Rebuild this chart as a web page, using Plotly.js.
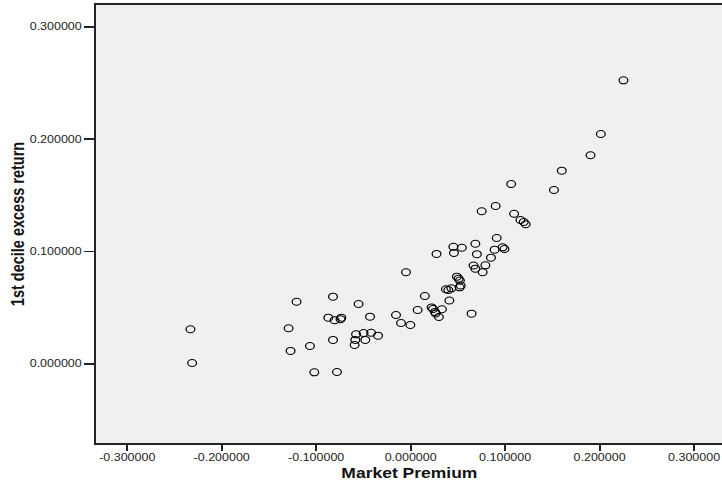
<!DOCTYPE html>
<html>
<head>
<meta charset="utf-8">
<script src="https://cdn.plot.ly/plotly-3.0.1.min.js"></script>
<style>
  html, body { margin: 0; padding: 0; background: #ffffff; overflow: hidden; }
  #wrap { width: 722px; height: 488px; overflow: hidden; }
  #chart { width: 577.6px; height: 488px; transform: scaleX(1.25); transform-origin: 0 0; }
</style>
</head>
<body>
<div id="wrap"><div id="chart"></div></div>
<script>
// Market Premium (x) vs 1st decile excess return (y)
const marketPremium = [
  -0.2331, -0.2313, -0.1292, -0.1271, -0.1208, -0.1066, -0.1020, -0.0872, -0.0805, -0.0742,
  -0.0734, -0.0822, -0.0822, -0.0780, -0.0551, -0.0430, -0.0578, -0.0498, -0.0419, -0.0345,
  -0.0586, -0.0480, -0.0593, -0.0155, -0.0102, -0.0003, -0.0049, 0.0074, 0.0150, 0.0222,
  0.0237, 0.0258, 0.0265, 0.0299, 0.0331, 0.0645, 0.0410, 0.0373, 0.0399, 0.0431,
  0.0489, 0.0507, 0.0521, 0.0530, 0.0519, 0.0274, 0.0452, 0.0542, 0.0458, 0.0685,
  0.0701, 0.0911, 0.0889, 0.0974, 0.0993, 0.0850, 0.0791, 0.0666, 0.0685, 0.0762,
  0.0752, 0.0900, 0.1064, 0.1095, 0.1162, 0.1197, 0.1218, 0.1517, 0.1600, 0.1904,
  0.2013, 0.2253
];
const firstDecileExcess = [
  0.0309, 0.0009, 0.0318, 0.0116, 0.0554, 0.0160, -0.0074, 0.0412, 0.0389, 0.0398,
  0.0412, 0.0599, 0.0214, -0.0071, 0.0534, 0.0421, 0.0264, 0.0276, 0.0278, 0.0252,
  0.0214, 0.0214, 0.0169, 0.0436, 0.0365, 0.0347, 0.0816, 0.0480, 0.0605, 0.0503,
  0.0489, 0.0463, 0.0449, 0.0418, 0.0487, 0.0448, 0.0565, 0.0665, 0.0658, 0.0673,
  0.0777, 0.0759, 0.0743, 0.0698, 0.0682, 0.0979, 0.1043, 0.1034, 0.0988, 0.1070,
  0.0977, 0.1121, 0.1017, 0.1038, 0.1023, 0.0946, 0.0878, 0.0876, 0.0848, 0.0816,
  0.1359, 0.1406, 0.1601, 0.1337, 0.1281, 0.1263, 0.1243, 0.1548, 0.1720, 0.1857,
  0.2046, 0.2524
];
const xTickVals = [-0.3, -0.2, -0.1, 0, 0.1, 0.2, 0.3];
const xTickText = ["-0.300000", "-0.200000", "-0.100000", "0.000000", "0.100000", "0.200000", "0.300000"];
const yTickVals = [0, 0.1, 0.2, 0.3];
const yTickText = ["0.000000", "0.100000", "0.200000", "0.300000"];
const xTitle = "Market Premium";
const yTitle = "1st decile excess return";

const trace = {
  x: marketPremium,
  y: firstDecileExcess,
  type: "scatter",
  mode: "markers",
  marker: { symbol: "circle-open", size: 7, color: "#000000", line: { width: 1, color: "#000000" } },
  hoverinfo: "x+y"
};

const layout = {
  width: 577.6,
  height: 488,
  margin: { l: 76.8, r: 0, t: 5, b: 45 },
  paper_bgcolor: "#ffffff",
  plot_bgcolor: "#f0f0f0",
  showlegend: false,
  font: { family: "Liberation Sans, Arial, sans-serif", color: "#222222" },
  xaxis: {
    range: [-0.3328, 0.3301],
    tickvals: xTickVals,
    ticktext: xTickText,
    ticks: "outside",
    ticklen: 6,
    tickwidth: 1.5,
    tickcolor: "#222222",
    tickfont: { size: 10, color: "#222222" },
    ticklabelstandoff: -2,
    showgrid: false,
    zeroline: false,
    showline: true,
    mirror: true,
    linecolor: "#222222",
    linewidth: 2,
    title: { text: xTitle, font: { size: 14, color: "#111111", family: "Liberation Sans, Arial, sans-serif", weight: "bold" }, standoff: 6 }
  },
  yaxis: {
    range: [-0.0703, 0.3194],
    tickvals: yTickVals,
    ticktext: yTickText,
    ticks: "outside",
    ticklen: 8,
    tickwidth: 1.5,
    tickcolor: "#222222",
    tickfont: { size: 10, color: "#222222" },
    showgrid: false,
    zeroline: false,
    showline: true,
    mirror: false,
    linecolor: "#222222",
    linewidth: 1.6,
    title: { text: yTitle, font: { size: 14.5, color: "#111111", family: "Liberation Sans, Arial, sans-serif", weight: "bold" }, standoff: 0 }
  }
};

Plotly.newPlot("chart", [trace], layout, { displayModeBar: false, staticPlot: true });
</script>
</body>
</html>
